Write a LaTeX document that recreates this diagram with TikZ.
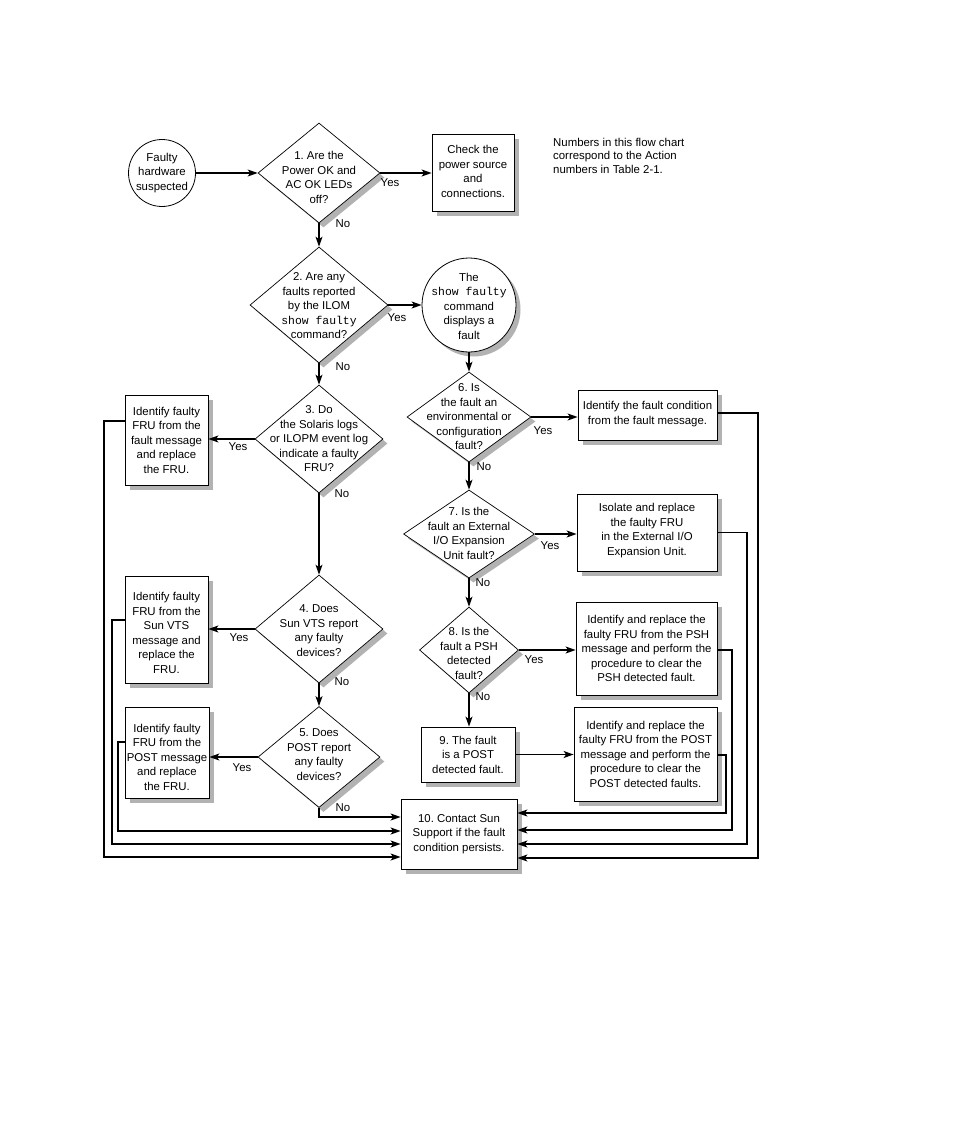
\documentclass[tikz,border=0pt]{standalone}
\usepackage{fontspec}
\setmainfont{Liberation Sans}
\setmonofont{Liberation Mono}
\usetikzlibrary{shapes.geometric,shadows,arrows.meta,calc}
\frenchspacing
\begin{document}
\begin{tikzpicture}[x=1pt,y=-1pt,
  every node/.style={font=\fontsize{11.4}{14.5}\selectfont, inner sep=0pt},
  sh/.style={drop shadow={shadow xshift=4.5pt,shadow yshift=-4.5pt,fill=black!30,opacity=1}},
  dia/.style={draw, line width=0.7pt, shape=diamond, fill=white, sh},
  box/.style={draw, line width=0.8pt, rectangle, fill=white, sh},
  circ/.style={draw, line width=0.8pt, circle, fill=white},
  txt/.style={align=center},
  conn/.style={line width=1.3pt, -{Stealth[length=10pt,width=7pt,inset=2.5pt]}}
]
\useasboundingbox (0,0) rectangle (954,1145);
\fill[white] (0,0) rectangle (954,1145);

% shapes
\node[circ, minimum size=67pt] (c1) at (162,173) {};
\node[dia, minimum width=122pt, minimum height=100pt] (d1) at (319,173) {};
\node[box, minimum width=82pt, minimum height=77pt] (b1) at (473,172.5) {};
\node[dia, minimum width=138pt, minimum height=116pt] (d2) at (319,305) {};
\node[circ, sh, minimum size=94pt] (c2) at (469,305) {};
\node[dia, minimum width=128pt, minimum height=108pt] (d3) at (319,439) {};
\node[box, minimum width=83pt, minimum height=90pt] (b3) at (166.5,440) {};
\node[dia, minimum width=128pt, minimum height=108pt] (d4) at (319,629) {};
\node[box, minimum width=83pt, minimum height=107pt] (b4) at (166.5,629.5) {};
\node[dia, minimum width=122pt, minimum height=101pt] (d5) at (319,757) {};
\node[box, minimum width=84pt, minimum height=91pt] (b5) at (167,752.5) {};
\node[dia, minimum width=124pt, minimum height=90pt] (d6) at (469,417) {};
\node[box, minimum width=139pt, minimum height=50pt] (b6) at (647.5,415) {};
\node[dia, minimum width=131pt, minimum height=88pt] (d7) at (469,534) {};
\node[box, minimum width=140pt, minimum height=77pt] (b7) at (647,532.5) {};
\node[dia, minimum width=99pt, minimum height=86pt] (d8) at (469,650) {};
\node[box, minimum width=141pt, minimum height=93pt] (b8) at (646.5,648.5) {};
\node[box, minimum width=94pt, minimum height=55pt] (b9) at (468,754.5) {};
\node[box, minimum width=143pt, minimum height=94pt] (bp) at (645.5,754) {};
\node[box, minimum width=116pt, minimum height=70pt] (b10) at (459,834) {};

% texts
\node[txt] (c1t) at (162,173) {Faulty\\hardware\\suspected};
\node[txt] (d1t) at (319,177.5) {1. Are the\\Power OK and\\AC OK LEDs\\off?};
\node[txt] (b1t) at (473,171.5) {Check the\\power source\\and\\connections.};
\node[txt] (d2t) at (319,306) {2. Are any\\faults reported\\by the ILOM\\\texttt{show faulty}\\command?};
\node[txt] (c2t) at (469,306) {The\\\texttt{show faulty}\\command\\displays a\\fault};
\node[txt] (d3t) at (319,439) {3. Do\\the Solaris logs\\or ILOPM event log\\indicate a faulty\\FRU?};
\node[txt] (b3t) at (166.5,440) {Identify faulty\\FRU from the\\fault message\\and replace\\the FRU.};
\node[txt] (d4t) at (319,630.5) {4. Does\\Sun VTS report\\any faulty\\devices?};
\node[txt] (b4t) at (166.5,633) {Identify faulty\\FRU from the\\Sun VTS\\message and\\replace the\\FRU.};
\node[txt] (d5t) at (319,754.5) {5. Does\\POST report\\any faulty\\devices?};
\node[txt] (b5t) at (167,757) {Identify faulty\\FRU from the\\POST message\\and replace\\the FRU.};
\node[txt] (d6t) at (469,417) {6. Is\\the fault an\\environmental or\\configuration\\fault?};
\node[txt] (b6t) at (647.5,414) {Identify the fault condition\\from the fault message.};
\node[txt] (d7t) at (469,533.5) {7. Is the\\fault an External\\I/O Expansion\\Unit fault?};
\node[txt] (b7t) at (647,530.5) {Isolate and replace\\the faulty FRU\\in the External I/O\\Expansion Unit.};
\node[txt] (d8t) at (469,653.5) {8. Is the\\fault a PSH\\detected\\fault?};
\node[txt] (b8t) at (646.5,648.5) {Identify and replace the\\faulty FRU from the PSH\\message and perform the\\procedure to clear the\\PSH detected fault.};
\node[txt] (b9t) at (468,754.5) {9. The fault\\is a POST\\detected fault.};
\node[txt] (bpt) at (645.5,754) {Identify and replace the\\faulty FRU from the POST\\message and perform the\\procedure to clear the\\POST detected faults.};
\node[txt] (b10t) at (459,834) {10. Contact Sun\\Support if the fault\\condition persists.};
\node[align=left, anchor=north west, font=\fontsize{11.4}{13.5}\selectfont] (note) at (553,138) {Numbers in this flow chart\\correspond to the Action\\numbers in Table 2-1.};

% Yes / No labels
\node (y1) at (390,183) {Yes};
\node (n1) at (343,224) {No};
\node (y2) at (397,318) {Yes};
\node (n2) at (343,367) {No};
\node (y3) at (238,447) {Yes};
\node (n3) at (342,494) {No};
\node (y4) at (239,638) {Yes};
\node (n4) at (342,682) {No};
\node (y5) at (242,768) {Yes};
\node (n5) at (343,808) {No};
\node (y6) at (543,431) {Yes};
\node (n6) at (484,467) {No};
\node (y7) at (550,546) {Yes};
\node (n7) at (483,583) {No};
\node (y8) at (534,660) {Yes};
\node (n8) at (483,697) {No};

% main connectors
\draw[conn] (c1.east) -- (d1.west);
\draw[conn] (d1.east) -- (d1.east -| b1.west);
\draw[conn] (d1.south) -- (d2.north);
\draw[conn] (d2.east) -- (c2.west);
\draw[conn] (c2.south) -- (d6.north);
\draw[conn] (d2.south) -- (d3.north);
\draw[conn] (d3.west) -- (d3.west -| b3.east);
\draw[conn] (d3.south) -- (d4.north);
\draw[conn] (d4.west) -- (d4.west -| b4.east);
\draw[conn] (d4.south) -- (d5.north);
\draw[conn] (d5.west) -- (d5.west -| b5.east);
\draw[conn] (d6.east) -- (d6.east -| b6.west);
\draw[conn] (d6.south) -- (d7.north);
\draw[conn] (d7.east) -- (d7.east -| b7.west);
\draw[conn] (d7.south) -- (d8.north);
\draw[conn] (d8.east) -- (d8.east -| b8.west);
\draw[conn] (d8.south) -- (d8.south |- b9.north);
\draw[conn] (b9.east) -- (b9.east -| bp.west);

% return loops to box 10
\coordinate (k5) at (319,817);
\coordinate (k4) at (118,831);
\coordinate (k3) at (112,844);
\coordinate (k2) at (104,857);
\draw[conn] (d5.south) -- (k5) -- (k5 -| b10.west);
\draw[conn] ([yshift=10.5pt]b5.west) -| (k4) -- (k4 -| b10.west);
\draw[conn] ([yshift=9.5pt]b4.west) -| (k3) -- (k3 -| b10.west);
\draw[conn] ([yshift=19pt]b3.west) -| (k2) -- (k2 -| b10.west);

\coordinate (r9) at (726,813);
\coordinate (r8) at (732,830);
\coordinate (r7) at (747,844);
\coordinate (r6) at (758,858);
\draw[conn] ([yshift=-1pt]bp.east) -| (r9) -- (r9 -| b10.east);
\draw[conn] ([yshift=-1.5pt]b8.east) -| (r8) -- (r8 -| b10.east);
\draw[conn] (b7.east) -| (r7) -- (r7 -| b10.east);
\draw[conn] ([yshift=2pt]b6.east) -| (r6) -- (r6 -| b10.east);
\end{tikzpicture}
\end{document}
